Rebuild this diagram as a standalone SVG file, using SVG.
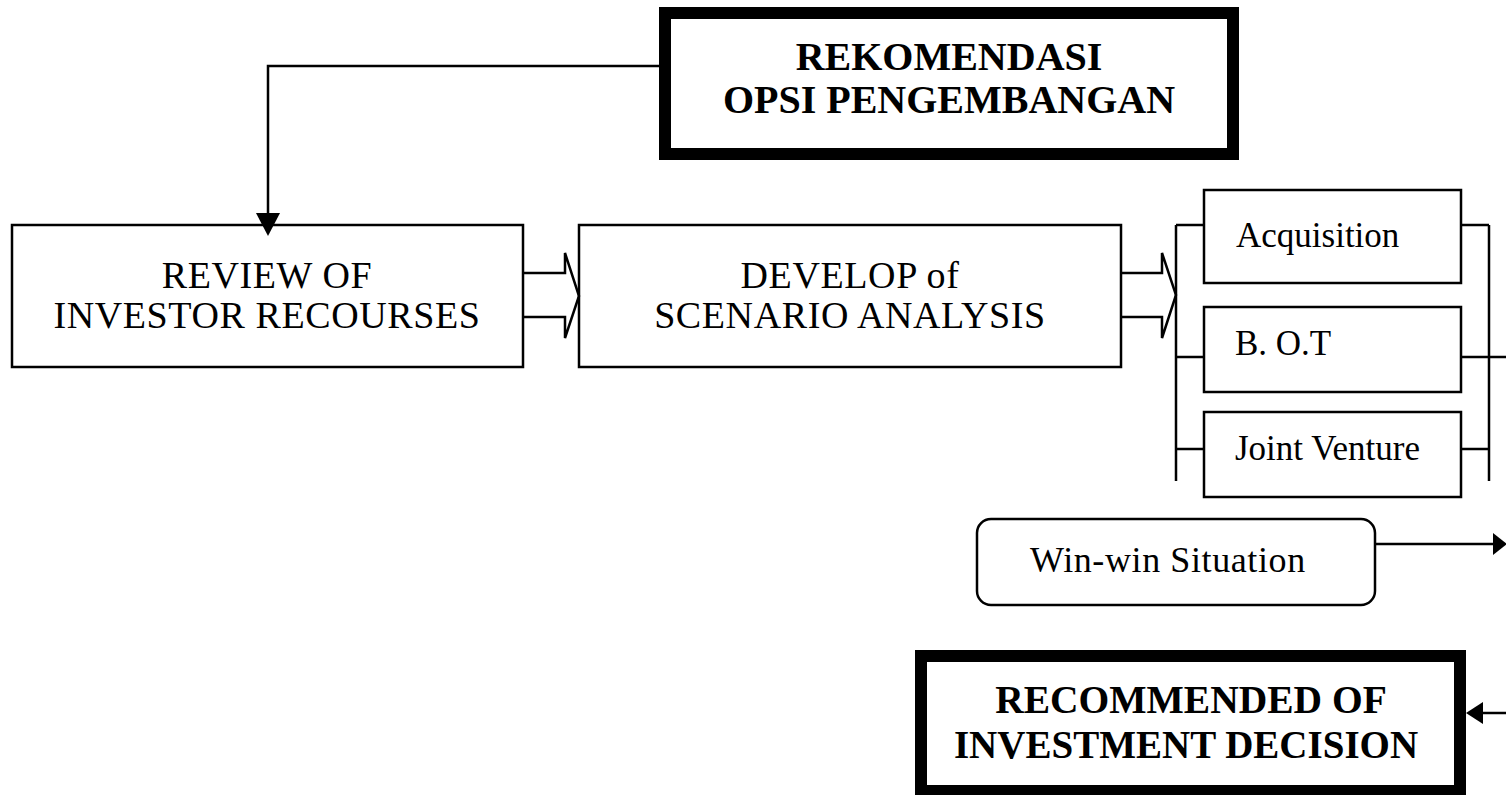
<svg xmlns="http://www.w3.org/2000/svg" width="1506" height="795" viewBox="0 0 1506 795">
<style>
.box{fill:#fff;stroke:#000;stroke-width:2.5}
.thick{fill:#fff;stroke:#000;stroke-width:12}
.ln{fill:none;stroke:#000;stroke-width:2.5}
.t{font-family:"Liberation Serif","Times New Roman",serif;fill:#000;text-anchor:middle}
.r{font-size:38px;letter-spacing:0.6px}
.b{font-size:40px;font-weight:bold}
.s{font-size:35px;text-anchor:start}
</style>
<rect width="1506" height="795" fill="#fff"/>
<g id="rekomendasi">
<rect class="thick" x="665" y="13" width="568" height="141"/>
<text class="t b" x="949" y="70">REKOMENDASI</text>
<text class="t b" x="949" y="113">OPSI PENGEMBANGAN</text>
</g>
<g id="review">
<rect class="box" x="12" y="225" width="511" height="142"/>
<text class="t r" x="267" y="288">REVIEW OF</text>
<text class="t r" x="267" y="328">INVESTOR RECOURSES</text>
</g>
<g id="develop">
<rect class="box" x="579" y="225" width="542" height="142"/>
<text class="t r" x="850" y="288">DEVELOP of</text>
<text class="t r" x="850" y="328">SCENARIO ANALYSIS</text>
</g>
<g id="acquisition">
<rect class="box" x="1204" y="190" width="257" height="93"/>
<text class="t s" x="1236" y="247">Acquisition</text>
</g>
<g id="bot">
<rect class="box" x="1204" y="307" width="257" height="85"/>
<text class="t s" x="1235" y="355">B. O.T</text>
</g>
<g id="jv">
<rect class="box" x="1204" y="412" width="257" height="85"/>
<text class="t s" x="1235" y="460">Joint Venture</text>
</g>
<g id="winwin">
<rect class="box" x="977" y="519" width="398" height="86" rx="14" ry="14"/>
<text class="t s" x="1030" y="572" style="font-size:36px;letter-spacing:0.6px">Win-win Situation</text>
</g>
<g id="recommended">
<rect class="thick" x="921" y="656" width="539" height="135"/>
<text class="t b" x="1191" y="713" style="font-size:39.5px">RECOMMENDED OF</text>
<text class="t b" x="1186" y="758" style="font-size:39px">INVESTMENT DECISION</text>
</g>
<g id="connectors">
<polyline class="ln" points="659,66 268,66 268,214"/>
<path d="M256,213 L280,213 L268,236 Z" fill="#000"/>
<path class="ln" d="M524,273 L565,273 L565,253 L579,296 L565,338 L565,317 L524,317"/>
<path class="ln" d="M1122,273 L1162,273 L1162,253 L1176,295 L1162,338 L1162,317 L1122,317"/>
<path class="ln" d="M1176,225 L1176,481 M1176,225 L1203,225 M1176,357 L1203,357 M1176,449 L1203,449"/>
<path class="ln" d="M1489,225 L1489,481 M1462,225 L1489,225 M1462,357 L1506,357 M1462,449 L1489,449"/>
<line class="ln" x1="1376" y1="544" x2="1494" y2="544"/>
<path d="M1493,533 L1507,544 L1493,555 Z" fill="#000"/>
<line class="ln" x1="1506" y1="713" x2="1482" y2="713"/>
<path d="M1483,702 L1466,713 L1483,724 Z" fill="#000"/>
</g>
</svg>
